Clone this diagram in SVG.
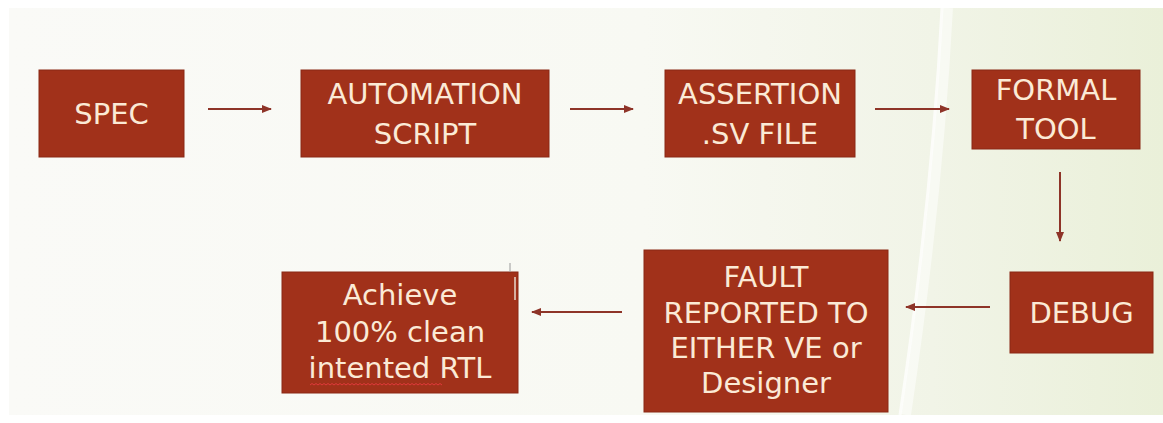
<svg xmlns="http://www.w3.org/2000/svg" width="1163" height="423" viewBox="0 0 1163 423">
  <defs>
    <linearGradient id="bg" x1="0" y1="0" x2="1" y2="0">
      <stop offset="0" stop-color="#FAFAF7"/>
      <stop offset="0.55" stop-color="#F8F9F3"/>
      <stop offset="0.8" stop-color="#F1F4E7"/>
      <stop offset="1" stop-color="#EAF0D9"/>
    </linearGradient>
    <marker id="arrow" viewBox="0 0 10 10" refX="9" refY="5" markerWidth="5" markerHeight="5" orient="auto" markerUnits="strokeWidth">
      <path d="M0,1 L10,5 L0,9 Z" fill="#8E3428"/>
    </marker>
    <style>
      .box { fill: #A1311A; stroke: #8A2814; stroke-width: 1; }
      .lbl { font-family: "DejaVu Sans", "Liberation Sans", sans-serif; font-size: 29px; fill: #FBEAD6; text-anchor: middle; }
      .conn { stroke: #8E3428; stroke-width: 2; fill: none; marker-end: url(#arrow); }
    </style>
  </defs>

  <rect x="0" y="0" width="1163" height="423" fill="#FFFFFF"/>
  <rect x="9" y="8" width="1154" height="407" fill="url(#bg)"/>
  <path d="M948,8 Q938,200 906,415" stroke="#FFFFFF" stroke-width="10" fill="none" opacity="0.5"/>
  <path d="M942,8 Q932,200 900,415" stroke="#FFFFFF" stroke-width="3" fill="none" opacity="0.75"/>

  <g id="connectors">
    <line class="conn" x1="208" y1="109" x2="271" y2="109"/>
    <line class="conn" x1="570" y1="109" x2="633" y2="109"/>
    <line class="conn" x1="875" y1="109" x2="949" y2="109"/>
    <line class="conn" x1="1060" y1="172" x2="1060" y2="241"/>
    <line class="conn" x1="990" y1="307" x2="906" y2="307"/>
    <line class="conn" x1="622" y1="312" x2="532" y2="312"/>
  </g>

  <g id="spec">
    <rect class="box" x="39" y="70" width="145" height="87"/>
    <text class="lbl" x="111.5" y="124">SPEC</text>
  </g>

  <g id="automation-script">
    <rect class="box" x="301" y="70" width="248" height="87"/>
    <text class="lbl" x="425" y="104">AUTOMATION</text>
    <text class="lbl" x="425" y="144">SCRIPT</text>
  </g>

  <g id="assertion-file">
    <rect class="box" x="665" y="70" width="190" height="87"/>
    <text class="lbl" x="760" y="104">ASSERTION</text>
    <text class="lbl" x="760" y="144">.SV FILE</text>
  </g>

  <g id="formal-tool">
    <rect class="box" x="972" y="70" width="168" height="79"/>
    <text class="lbl" x="1056" y="100">FORMAL</text>
    <text class="lbl" x="1056" y="139">TOOL</text>
  </g>

  <g id="debug">
    <rect class="box" x="1010" y="272" width="143" height="81"/>
    <text class="lbl" x="1081.5" y="323">DEBUG</text>
  </g>

  <g id="fault-reported">
    <rect class="box" x="644" y="250" width="244" height="162"/>
    <text class="lbl" x="766" y="287">FAULT</text>
    <text class="lbl" x="766" y="323">REPORTED TO</text>
    <text class="lbl" x="766" y="358">EITHER VE or</text>
    <text class="lbl" x="766" y="393">Designer</text>
  </g>

  <g id="achieve">
    <rect class="box" x="282" y="272" width="236" height="121"/>
    <line x1="515" y1="277" x2="515" y2="300" stroke="#E8D8CC" stroke-width="1.5"/>
    <line x1="510" y1="263" x2="510" y2="272" stroke="#9A9A9A" stroke-width="1"/>
    <text class="lbl" x="400" y="305">Achieve</text>
    <text class="lbl" x="400" y="342">100% clean</text>
    <text class="lbl" x="400" y="378">intented RTL</text>
    <path d="M310,385 l2,-1.5 l2,1.5 l2,-1.5 l2,1.5 l2,-1.5 l2,1.5 l2,-1.5 l2,1.5 l2,-1.5 l2,1.5 l2,-1.5 l2,1.5 l2,-1.5 l2,1.5 l2,-1.5 l2,1.5 l2,-1.5 l2,1.5 l2,-1.5 l2,1.5 l2,-1.5 l2,1.5 l2,-1.5 l2,1.5 l2,-1.5 l2,1.5 l2,-1.5 l2,1.5 l2,-1.5 l2,1.5 l2,-1.5 l2,1.5 l2,-1.5 l2,1.5 l2,-1.5 l2,1.5 l2,-1.5 l2,1.5 l2,-1.5 l2,1.5 l2,-1.5 l2,1.5 l2,-1.5 l2,1.5 l2,-1.5 l2,1.5 l2,-1.5 l2,1.5 l2,-1.5 l2,1.5 l2,-1.5 l2,1.5 l2,-1.5 l2,1.5 l2,-1.5 l2,1.5 l2,-1.5 l2,1.5 l2,-1.5 l2,1.5 l2,-1.5 l2,1.5 l2,-1.5 l2,1.5 l2,-1.5 l2,1.5" stroke="#E03A3A" stroke-width="1" fill="none"/>
  </g>
</svg>
